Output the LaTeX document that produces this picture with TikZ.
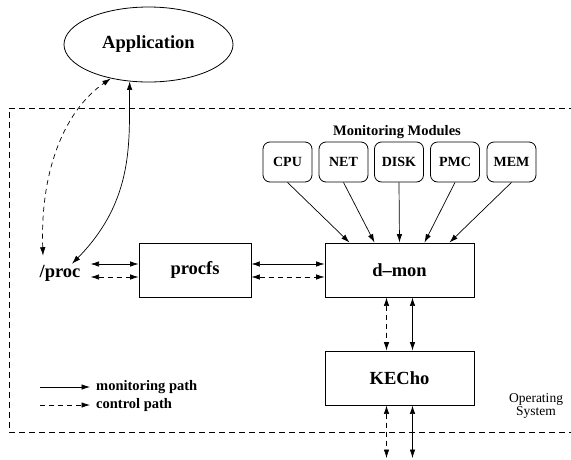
\documentclass[tikz,border=0pt]{standalone}
\usepackage{fontspec}
\setmainfont{Liberation Serif}
\usetikzlibrary{arrows.meta,shapes.geometric}

\tikzset{
  tip/.tip={Latex[length=8.5pt,width=5.5pt]},
  box/.style={draw,line width=0.9pt,minimum width=149pt,minimum height=54pt,
    font=\fontsize{18.5}{20}\selectfont\bfseries},
  modbox/.style={draw,line width=0.8pt,rounded corners=7pt,minimum width=49pt,
    minimum height=40pt,inner sep=0pt,font=\fontsize{14}{16}\selectfont\bfseries},
  mono/.style={line width=0.7pt,-tip},
  both/.style={line width=0.7pt,tip-tip},
  ctrl/.style={dash pattern=on 5pt off 4pt},
  osline/.style={line width=0.7pt,dash pattern=on 6pt off 4pt},
  legendtext/.style={anchor=west,inner sep=0pt,font=\fontsize{14.5}{16}\selectfont\bfseries}
}

\begin{document}
\begin{tikzpicture}[x=1pt,y=-1pt]
\useasboundingbox (0,0) rectangle (571,459);

% operating system boundary
\draw[osline] (575,108) -- (9,108) -- (9,432) -- (575,432);
\node[align=center,font=\fontsize{13.5}{10.5}\selectfont,inner sep=0pt] (os) at (536,406)
  {Operating\\System};

% application and /proc
\node[draw,ellipse,line width=0.8pt,minimum width=169pt,minimum height=75pt,
  font=\fontsize{18.5}{20}\selectfont\bfseries] (app) at (148.5,44.5) {Application};
\node[font=\fontsize{18.5}{20}\selectfont\bfseries,inner sep=2pt] (proc) at (60,273) {/proc};

% main blocks
\node[box,minimum width=112pt] (procfs) at (195,270) {procfs};
\node[box] (dmon) at (399.5,270) {d--mon};
\node[box] (kecho) at (399.5,378) {KECho};

% monitoring modules
\node[font=\fontsize{14.5}{16}\selectfont\bfseries] (mmtitle) at (397,132) {Monitoring Modules};
\node[modbox] (cpu)  at (287.5,162) {CPU};
\node[modbox] (net)  at (343.5,162) {NET};
\node[modbox] (disk) at (399,162)   {DISK};
\node[modbox] (pmc)  at (455,162)   {PMC};
\node[modbox] (mem)  at (511.5,162) {MEM};

\draw[mono] (cpu.south)  -- ([xshift=-50pt]dmon.north);
\draw[mono] (net.south)  -- ([xshift=-25pt]dmon.north);
\draw[mono] (disk.south) -- (dmon.north);
\draw[mono] (pmc.south)  -- ([xshift=25pt]dmon.north);
\draw[mono] (mem.south)  -- ([xshift=50pt]dmon.north);

% application <-> /proc
\draw[both,ctrl] ([xshift=-17pt,yshift=7pt]proc.north) .. controls (40,170) and (65,110) .. (app.222);
\draw[both] ([xshift=12pt,yshift=-1pt]proc.north) .. controls (135,200) and (129,140) .. (app.243);

% /proc <-> procfs <-> d-mon
\draw[both] ([xshift=8pt]proc.east |- 0,264) -- (procfs.west |- 0,264);
\draw[both,ctrl] ([xshift=8pt]proc.east |- 0,277) -- (procfs.west |- 0,277);
\draw[both] (procfs.east |- 0,264) -- (dmon.west |- 0,264);
\draw[both,ctrl] (procfs.east |- 0,277) -- (dmon.west |- 0,277);

% d-mon <-> KECho <-> outside
\draw[both,ctrl] ([xshift=-13pt]dmon.south) -- ([xshift=-13pt]kecho.north);
\draw[both] ([xshift=13pt]dmon.south) -- ([xshift=13pt]kecho.north);
\coordinate (outL) at (386.5,458);
\coordinate (outR) at (412.5,458);
\draw[both,ctrl] ([xshift=-13pt]kecho.south) -- (outL);
\draw[both] ([xshift=13pt]kecho.south) -- (outR);

% legend
\coordinate (lgA) at (40,387);
\coordinate (lgB) at (40,405);
\node[legendtext] (lgmon) at (96,387) {monitoring path};
\node[legendtext] (lgctl) at (96,405) {control path};
\draw[mono] (lgA) -- ([xshift=-6pt]lgmon.west);
\draw[mono,ctrl] (lgB) -- ([xshift=-6pt]lgctl.west);
\end{tikzpicture}
\end{document}
